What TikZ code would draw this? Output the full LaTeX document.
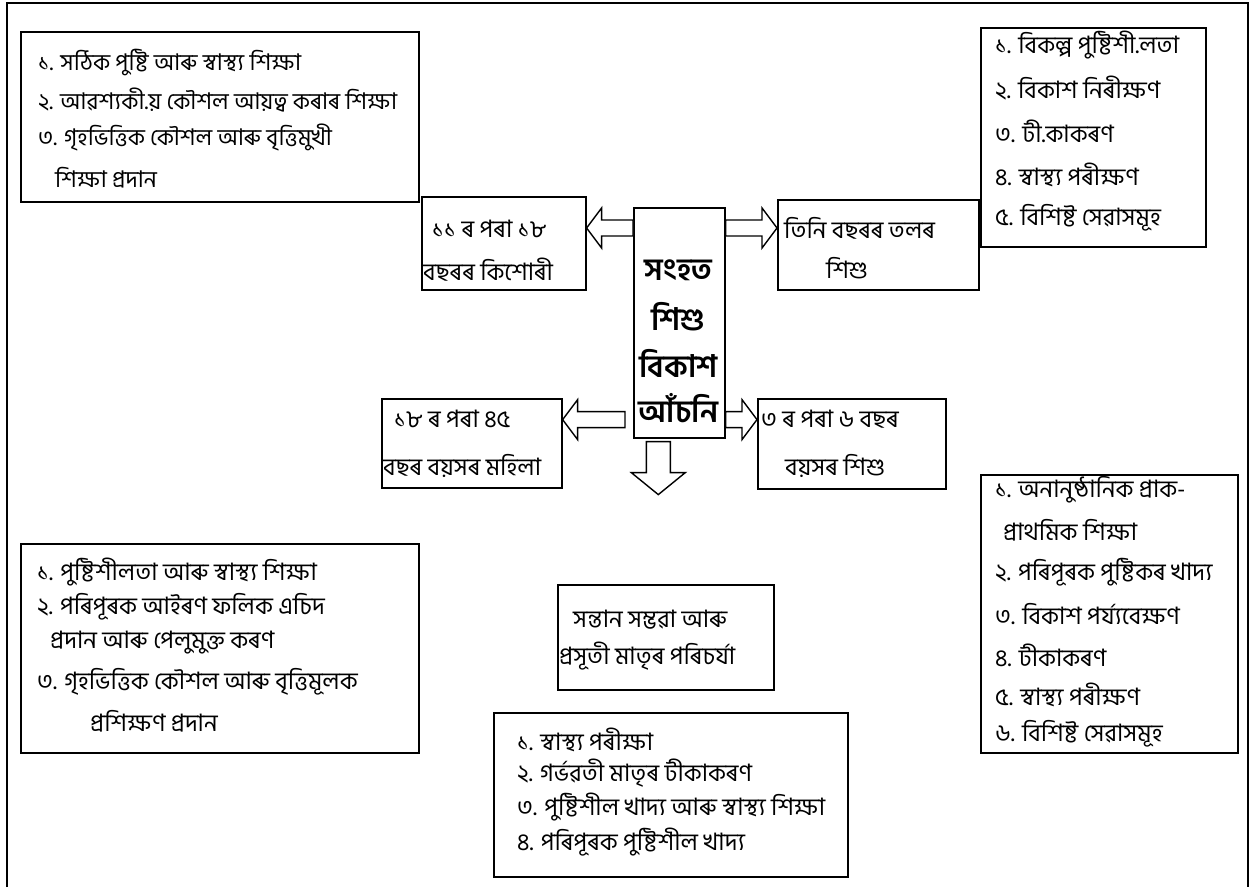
\documentclass[tikz,border=0pt]{standalone}
\usepackage{fontspec}
\setmainfont[Script=Bengali]{Hind Siliguri}
\usetikzlibrary{calc}
\tikzset{
  boxst/.style={draw, line width=1.6pt, rectangle, anchor=north west, inner sep=0pt, fill=white},
  txt/.style={anchor=west, inner sep=0pt, font=\fontsize{24}{28}\selectfont},
  txta/.style={txt, font=\fontsize{23}{27}\selectfont},
  ctxt/.style={anchor=center, inner sep=0pt, font=\fontsize{31}{35}\selectfont\bfseries},
  arrst/.style={draw, line width=1.4pt, fill=white, line join=miter},
  frame/.style={line width=2pt}
}
\newcommand\harrow[3]{%
  \draw[arrst] ($(#1)+(0,-8)$) -- ($(#2)+(#3*15,-8)$) -- ($(#2)+(#3*15,-20)$) -- (#2) -- ($(#2)+(#3*15,20)$) -- ($(#2)+(#3*15,8)$) -- ($(#1)+(0,8)$) -- cycle;}
\begin{document}
\begin{tikzpicture}[x=1pt,y=-1pt]
\useasboundingbox (0,0) rectangle (1258,887);
\fill[white] (0,0) rectangle (1258,887);
\draw[frame] (7,887) -- (7,3) -- (1248,3) -- (1248,887);

% boxes
\node[boxst, minimum width=398pt, minimum height=170pt] (A) at (20,31) {};
\node[boxst, minimum width=164pt, minimum height=93pt] (B) at (421,196) {};
\node[boxst, minimum width=91pt, minimum height=230pt] (C) at (633,207) {};
\node[boxst, minimum width=201pt, minimum height=90pt] (D) at (777,199) {};
\node[boxst, minimum width=225pt, minimum height=219pt] (E) at (980,27) {};
\node[boxst, minimum width=180pt, minimum height=89pt] (F) at (381,398) {};
\node[boxst, minimum width=188pt, minimum height=90pt] (G) at (757,398) {};
\node[boxst, minimum width=398pt, minimum height=209pt] (H) at (20,543) {};
\node[boxst, minimum width=216pt, minimum height=105pt] (I) at (557,584) {};
\node[boxst, minimum width=354pt, minimum height=164pt] (J) at (493,712) {};
\node[boxst, minimum width=257pt, minimum height=278pt] (K) at (980,474) {};

% texts A
\node[txta] (a1) at (38,63) {১. সঠিক পুষ্টি আৰু স্বাস্থ্য শিক্ষা};
\node[txta] (a2) at (38,100) {২. আৱশ্যকী.য় কৌশল আয়ত্ব কৰাৰ শিক্ষা};
\node[txta] (a3) at (38,137) {৩. গৃহভিত্তিক কৌশল আৰু বৃত্তিমুখী};
\node[txta] (a4) at (55,178) {শিক্ষা প্ৰদান};
% B
\node[txt] (b1) at (432,229) {১১ ৰ পৰা ১৮};
\node[txt] (b2) at (423,270) {বছৰৰ কিশোৰী};
% C
\node[ctxt] (c1) at (678.5,270) {সংহত};
\node[ctxt] (c2) at (678.5,317) {শিশু};
\node[ctxt] (c3) at (678.5,363) {বিকাশ};
\node[ctxt] (c4) at (678.5,408) {আঁচনি};
% D
\node[txt] (d1) at (784,228) {তিনি বছৰৰ তলৰ};
\node[txt] (d2) at (826,268) {শিশু};
% E
\node[txt] (e1) at (995,45) {১. বিকল্প পুষ্টিশী.লতা};
\node[txt] (e2) at (995,88) {২. বিকাশ নিৰীক্ষণ};
\node[txt] (e3) at (995,131) {৩. টী.কাকৰণ};
\node[txt] (e4) at (995,175) {৪. স্বাস্থ্য পৰীক্ষণ};
\node[txt] (e5) at (995,218) {৫. বিশিষ্ট সেৱাসমূহ};
% F
\node[txt] (f1) at (394,419) {১৮ ৰ পৰা ৪৫};
\node[txt] (f2) at (383,466) {বছৰ বয়সৰ মহিলা};
% G
\node[txt] (g1) at (761,419) {৩ ৰ পৰা ৬ বছৰ};
\node[txt] (g2) at (785,466) {বয়সৰ শিশু};
% H
\node[txt] (h1) at (37,572) {১. পুষ্টিশীলতা আৰু স্বাস্থ্য শিক্ষা};
\node[txt] (h2) at (37,607) {২. পৰিপূৰক আইৰণ ফলিক এচিদ};
\node[txt] (h3) at (50,643) {প্ৰদান আৰু পেলুমুক্ত কৰণ};
\node[txt] (h4) at (37,682) {৩. গৃহভিত্তিক কৌশল আৰু বৃত্তিমূলক};
\node[txt] (h5) at (90,721) {প্ৰশিক্ষণ প্ৰদান};
% I
\node[txt] (i1) at (573,620) {সন্তান সম্ভৱা আৰু};
\node[txt] (i2) at (559,656) {প্ৰসূতী মাতৃৰ পৰিচৰ্যা};
% J
\node[txt] (j1) at (517,740) {১. স্বাস্থ্য পৰীক্ষা};
\node[txt] (j2) at (517,773) {২. গৰ্ভৱতী মাতৃৰ টীকাকৰণ};
\node[txt] (j3) at (517,807) {৩. পুষ্টিশীল খাদ্য আৰু স্বাস্থ্য শিক্ষা};
\node[txt] (j4) at (517,842) {৪. পৰিপূৰক পুষ্টিশীল খাদ্য};
% K
\node[txt] (k1) at (995,490) {১. অনানুষ্ঠানিক প্ৰাক-};
\node[txt] (k2) at (1003,530) {প্ৰাথমিক শিক্ষা};
\node[txt] (k3) at (995,572) {২. পৰিপূৰক পুষ্টিকৰ খাদ্য};
\node[txt] (k4) at (995,614) {৩. বিকাশ পৰ্য্যবেক্ষণ};
\node[txt] (k5) at (995,655) {৪. টীকাকৰণ};
\node[txt] (k6) at (995,695) {৫. স্বাস্থ্য পৰীক্ষণ};
\node[txt] (k7) at (995,734) {৬. বিশিষ্ট সেৱাসমূহ};

% arrows
\coordinate (tL) at ($(C.north west)+(0,21)$);
\coordinate (pL) at (B.east |- tL);
\harrow{tL}{pL}{1}
\coordinate (tR) at ($(C.north east)+(0,21)$);
\coordinate (pR) at (D.west |- tR);
\harrow{tR}{pR}{-1}
\coordinate (tBL) at ($(C.south west)+(-8,-19)$);
\coordinate (pBL) at (F.east |- tBL);
\harrow{tBL}{pBL}{1}
\coordinate (tBR) at ($(C.south east)+(0,-19)$);
\coordinate (pBR) at (G.west |- tBR);
\harrow{tBR}{pBR}{-1}
\coordinate (tD) at ($(C.south)+(-21,3)$);
\coordinate (pD) at ($(C.south)+(-21,56)$);
\draw[arrst] ($(tD)+(-12,0)$) -- ($(pD)+(-12,-22)$) -- ($(pD)+(-27,-22)$) -- (pD) -- ($(pD)+(27,-22)$) -- ($(pD)+(12,-22)$) -- ($(tD)+(12,0)$) -- cycle;
\end{tikzpicture}
\end{document}
